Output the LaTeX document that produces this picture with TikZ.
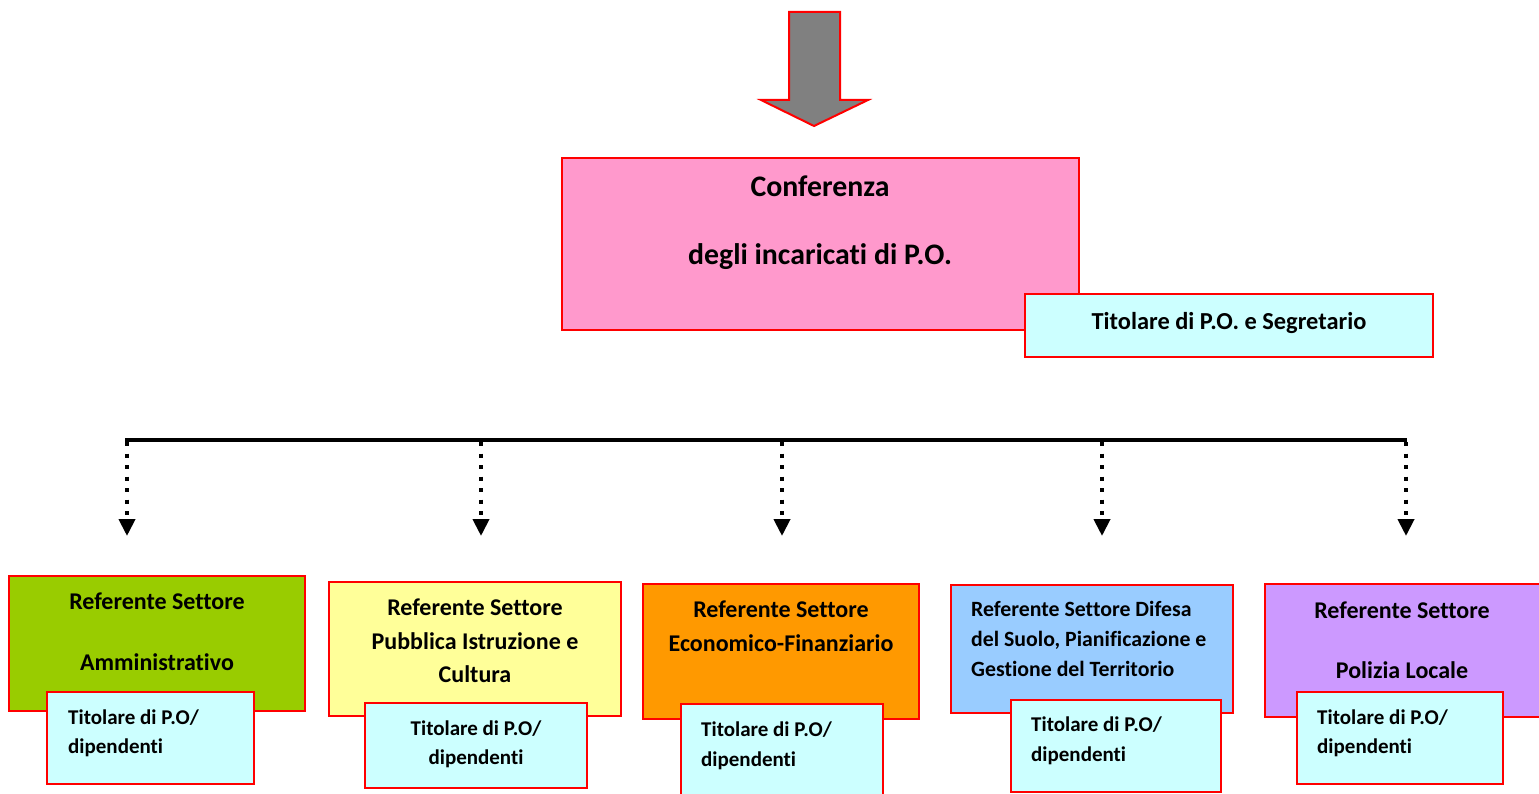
\documentclass[tikz,border=0pt]{standalone}
\usepackage{fontspec}
\setmainfont{Carlito}[Ligatures=NoCommon]
\usetikzlibrary{arrows.meta}
\definecolor{bordred}{RGB}{255,0,0}
\definecolor{pinkf}{RGB}{255,153,204}
\definecolor{cyanf}{RGB}{204,255,255}
\definecolor{greenf}{RGB}{153,204,0}
\definecolor{yellowf}{RGB}{255,255,153}
\definecolor{orangef}{RGB}{255,153,0}
\definecolor{bluef}{RGB}{153,204,255}
\definecolor{purplef}{RGB}{204,153,255}
\definecolor{arrowgray}{RGB}{128,128,128}
\begin{document}
\begin{tikzpicture}[x=1pt,y=-1pt,
  box/.style={draw=bordred, line width=2pt, inner sep=0pt, outer sep=0pt},
  conftxt/.style={font=\bfseries\fontsize{29.8}{31}\selectfont, inner sep=0pt},
  segtxt/.style={font=\bfseries\fontsize{24.4}{26}\selectfont, inner sep=0pt},
  ttl/.style={font=\bfseries\fontsize{24}{26}\selectfont, inner sep=0pt},
  ttlsmall/.style={font=\bfseries\fontsize{21.8}{23}\selectfont, inner sep=0pt},
  subtxt/.style={font=\bfseries\fontsize{21}{23}\selectfont, inner sep=0pt},
  bus/.style={line width=4pt},
  drop/.style={line width=4pt, dash pattern=on 4pt off 7.5pt, -{Triangle[width=16pt,length=17pt]}}
]
\useasboundingbox (0,0) rectangle (1539,794);
\clip (0,0) rectangle (1539,794);

% big gray arrow
\draw[fill=arrowgray, draw=bordred, line width=2pt, line join=miter]
  (789,12) -- (840,12) -- (840,100) -- (868,100) -- (814,126) -- (761,100) -- (789,100) -- cycle;

% Conferenza
\node[box, fill=pinkf, minimum width=517pt, minimum height=172pt] (conf) at (820.5,244) {};
\node[conftxt, anchor=base] (conf1) at (820,197) {Conferenza};
\node[conftxt, anchor=base] (conf2) at (820,265) {degli incaricati di P.O.};
\node[box, fill=cyanf, minimum width=408pt, minimum height=63pt] (seg) at (1229,325.5) {};
\node[segtxt, anchor=base] (segt) at (1229,329) {Titolare di P.O. e Segretario};

% bus
\coordinate (bL) at (125,440);
\coordinate (bR) at (1407,440);
\draw[bus] (bL) -- (bR);
\foreach \i/\x in {1/127,2/481,3/782,4/1102,5/1406}{
  \coordinate (d\i) at (\x,442);
  \coordinate (e\i) at (\x,536);
  \draw[drop] (d\i) -- (e\i);
}

% Box 1
\node[box, fill=greenf, minimum width=296pt, minimum height=135pt] (b1) at (157,643.5) {};
\node[ttl, anchor=base] (b1a) at (157,609) {Referente Settore};
\node[ttl, anchor=base] (b1b) at (157,670) {Amministrativo};
\node[box, fill=cyanf, minimum width=207pt, minimum height=92pt] (s1) at (150.5,738) {};
\node[subtxt, anchor=base west] (s1a) at (68,724) {Titolare di P.O/};
\node[subtxt, anchor=base west] (s1b) at (68,753) {dipendenti};

% Box 2
\node[box, fill=yellowf, minimum width=292pt, minimum height=134pt] (b2) at (475,649) {};
\node[ttl, anchor=base] (b2a) at (475,615) {Referente Settore};
\node[ttl, anchor=base] (b2b) at (475,649) {Pubblica Istruzione e};
\node[ttl, anchor=base] (b2c) at (475,682) {Cultura};
\node[box, fill=cyanf, minimum width=222pt, minimum height=85pt] (s2) at (476,745.5) {};
\node[subtxt, anchor=base] (s2a) at (476,735) {Titolare di P.O/};
\node[subtxt, anchor=base] (s2b) at (476,764) {dipendenti};

% Box 3
\node[box, fill=orangef, minimum width=276pt, minimum height=135pt] (b3) at (781,651.5) {};
\node[ttl, anchor=base] (b3a) at (781,617) {Referente Settore};
\node[ttl, anchor=base] (b3b) at (781,651) {Economico-Finanziario};
\node[box, fill=cyanf, minimum width=202pt, minimum height=126pt] (s3) at (782,767) {};
\node[subtxt, anchor=base west] (s3a) at (701,736) {Titolare di P.O/};
\node[subtxt, anchor=base west] (s3b) at (701,766) {dipendenti};

% Box 4
\node[box, fill=bluef, minimum width=282pt, minimum height=128pt] (b4) at (1092,649) {};
\node[ttlsmall, anchor=base west] (b4a) at (971,616) {Referente Settore Difesa};
\node[ttlsmall, anchor=base west] (b4b) at (971,646) {del Suolo, Pianificazione e};
\node[ttlsmall, anchor=base west] (b4c) at (971,676) {Gestione del Territorio};
\node[box, fill=cyanf, minimum width=210pt, minimum height=92pt] (s4) at (1116,746) {};
\node[subtxt, anchor=base west] (s4a) at (1031,731) {Titolare di P.O/};
\node[subtxt, anchor=base west] (s4b) at (1031,761) {dipendenti};

% Box 5
\node[box, fill=purplef, minimum width=295pt, minimum height=133pt] (b5) at (1412.5,650.5) {};
\node[ttl, anchor=base] (b5a) at (1402,618) {Referente Settore};
\node[ttl, anchor=base] (b5b) at (1402,678) {Polizia Locale};
\node[box, fill=cyanf, minimum width=206pt, minimum height=92pt] (s5) at (1400,738) {};
\node[subtxt, anchor=base west] (s5a) at (1317,724) {Titolare di P.O/};
\node[subtxt, anchor=base west] (s5b) at (1317,753) {dipendenti};
\end{tikzpicture}
\end{document}
